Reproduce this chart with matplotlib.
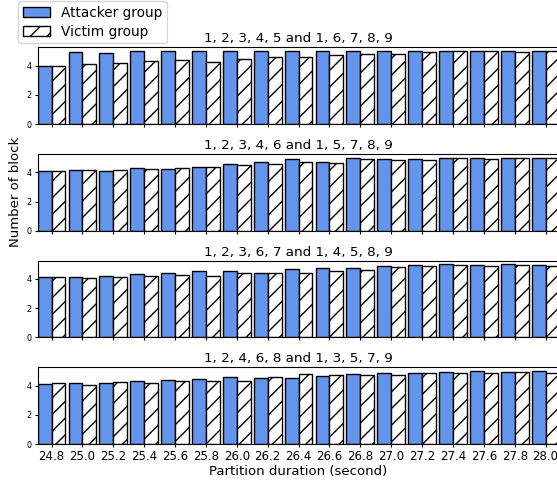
import matplotlib
matplotlib.use("Agg")
import matplotlib.pyplot as plt
import numpy as np

durations = ["24.8", "25.0", "25.2", "25.4", "25.6", "25.8", "26.0", "26.2", "26.4",
             "26.6", "26.8", "27.0", "27.2", "27.4", "27.6", "27.8", "28.0"]

titles = ["1, 2, 3, 4, 5 and 1, 6, 7, 8, 9",
          "1, 2, 3, 4, 6 and 1, 5, 7, 8, 9",
          "1, 2, 3, 6, 7 and 1, 4, 5, 8, 9",
          "1, 2, 4, 6, 8 and 1, 3, 5, 7, 9"]

attacker_1 = [4.0, 4.9, 4.88, 5.0, 5.0, 5.0, 5.0, 5.0, 5.0, 5.0, 5.0, 5.0, 5.0, 5.0, 5.0, 5.0, 5.0]
victim_1 = [4.0, 4.09, 4.17, 4.3, 4.35, 4.26, 4.45, 4.62, 4.57, 4.7, 4.77, 4.79, 4.96, 5.0, 5.0, 4.92, 5.0]

attacker_2 = [4.08, 4.15, 4.13, 4.34, 4.27, 4.38, 4.61, 4.7, 4.93, 4.75, 5.0, 4.96, 4.96, 5.0, 5.02, 5.0, 5.0]
victim_2 = [4.1, 4.2, 4.15, 4.27, 4.31, 4.38, 4.52, 4.6, 4.7, 4.66, 4.91, 4.87, 4.89, 5.0, 4.96, 5.0, 5.0]

attacker_3 = [4.11, 4.11, 4.18, 4.31, 4.38, 4.52, 4.52, 4.43, 4.65, 4.75, 4.77, 4.9, 4.92, 4.99, 4.97, 5.0, 4.92]
victim_3 = [4.11, 4.04, 4.11, 4.18, 4.29, 4.2, 4.38, 4.4, 4.38, 4.52, 4.61, 4.81, 4.85, 4.97, 4.85, 4.97, 4.85]

attacker_4 = [4.14, 4.18, 4.2, 4.32, 4.41, 4.45, 4.61, 4.52, 4.52, 4.63, 4.77, 4.86, 4.86, 4.9, 5.0, 4.95, 4.97]
victim_4 = [4.18, 4.07, 4.25, 4.2, 4.29, 4.34, 4.32, 4.61, 4.79, 4.72, 4.72, 4.72, 4.84, 4.86, 4.88, 4.93, 4.88]

attackers = [attacker_1, attacker_2, attacker_3, attacker_4]
victims = [victim_1, victim_2, victim_3, victim_4]

W, H = 557, 482
fig = plt.figure(figsize=(W / 100, H / 100), dpi=100)

left_px = 37.7
right_px = 559.5
height_px = 76.7
bottoms_px = [124.0, 230.7, 337.3, 444.0]

x = np.arange(len(durations))
bw = 0.45
axes = []
for i in range(4):
    b = bottoms_px[i]
    ax = fig.add_axes([left_px / W, (H - b) / H, (right_px - left_px) / W, height_px / H])
    axes.append(ax)
    ax.bar(x - bw / 2, attackers[i], width=bw, color="#6495ED", edgecolor="black",
           linewidth=1.0, label="Attacker group")
    ax.bar(x + bw / 2, victims[i], width=bw, color="white", edgecolor="black",
           linewidth=1.0, hatch="//", label="Victim group")
    ax.set_xlim(-0.45, len(durations) - 1 + 0.45)
    ax.set_xticks(x)
    ax.set_yticks([0, 2, 4])
    ax.tick_params(axis="y", labelsize=5.8, length=2.5, width=0.8, pad=2)
    ax.tick_params(axis="x", labelsize=8.5, length=2.5, width=0.8, pad=2)
    ax.set_title(titles[i], fontsize=9.7, pad=3.5)
    if i < 3:
        ax.set_xticklabels([])
    else:
        ax.set_xticklabels(durations)
        ax.set_xlabel("Partition duration (second)", fontsize=9.5, labelpad=1)

axes[1].set_ylabel("Number of block", fontsize=9.5, labelpad=3)

handles, labels = axes[0].get_legend_handles_labels()
fig.legend(handles, labels, loc="upper left", bbox_to_anchor=(18 / W, 1 - 1 / H),
           fontsize=9.8, borderaxespad=0, frameon=True, handlelength=2.0,
           labelspacing=0.35, borderpad=0.35)

fig.savefig("out.png", dpi=100)
